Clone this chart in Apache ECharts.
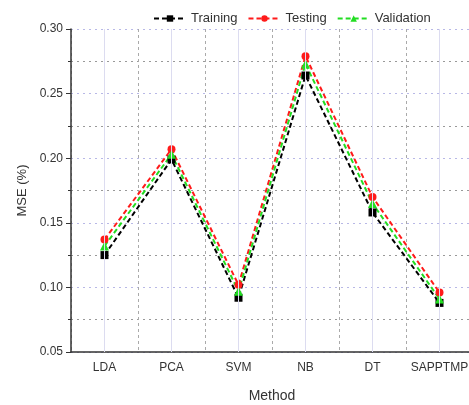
<!DOCTYPE html>
<html><head><meta charset="utf-8">
<script src="https://cdn.jsdelivr.net/npm/echarts@6/dist/echarts.min.js"></script>
<style>html,body{margin:0;padding:0;background:#fff}#c{width:469px;height:405px}</style>
</head><body><div id="c"></div>
<script>
const categories = ['LDA','PCA','SVM','NB','DT','SAPPTMP'];
const training = [0.125, 0.199, 0.092, 0.264, 0.158, 0.088];
const testing = [0.137, 0.207, 0.102, 0.279, 0.170, 0.096];
const validation = [0.132, 0.203, 0.097, 0.273, 0.165, 0.091];
const yTicks = [0.05, 0.30, 0.05]; // min, max, interval

const chart = echarts.init(document.getElementById('c'));
const font = 'Liberation Sans, Arial, sans-serif';
function mk(name, data, color, symbol, extra) {
  return Object.assign({
    name, type: 'line', data, xAxisIndex: 0,
    symbol, symbolSize: symbol === 'triangle' ? 9 : 8,
    itemStyle: { color },
    lineStyle: { color, width: 2, type: [5, 3] },
    z: 3
  }, extra || {});
}
chart.setOption({
  animation: false,
  textStyle: { fontFamily: font },
  legend: {
    top: 7, left: 148,
    itemWidth: 32, itemHeight: 8, itemGap: 10,
    textStyle: { fontSize: 13, color: '#333', fontFamily: font },
    data: ['Training', 'Testing', 'Validation']
  },
  grid: { left: 71, top: 29, width: 402, height: 323, outerBoundsMode: 'none', containLabel: false },
  xAxis: [{
    type: 'category', data: categories, boundaryGap: true,
    name: 'Method', nameLocation: 'middle', nameGap: 37,
    nameTextStyle: { fontSize: 14, color: '#333', fontFamily: font },
    axisLine: { lineStyle: { color: '#333', width: 1.5 } },
    axisTick: { alignWithLabel: true, interval: 0, length: 5, lineStyle: { color: '#333' } },
    axisLabel: { interval: 0, fontSize: 12, color: '#333', margin: 10, fontFamily: font, hideOverlap: false },
    splitLine: { show: true, interval: 0, lineStyle: { color: '#aaa', type: [3, 3], width: 1 } }
  }, {
    type: 'category', data: categories, boundaryGap: true, position: 'bottom',
    axisLine: { show: false },
    axisTick: { alignWithLabel: false, interval: 0, length: 3, lineStyle: { color: '#333' } },
    axisLabel: { show: false },
    splitLine: { show: false }
  }],
  yAxis: {
    type: 'value', min: yTicks[0], max: yTicks[1], interval: yTicks[2],
    name: 'MSE (%)', nameLocation: 'middle', nameGap: 42,
    nameTextStyle: { fontSize: 13, color: '#333', fontFamily: font },
    axisLine: { show: true, lineStyle: { color: '#333', width: 1.5 } },
    axisTick: { show: true, length: 5, lineStyle: { color: '#333' } },
    minorTick: { show: true, splitNumber: 2, length: 3, lineStyle: { color: '#333' } },
    axisLabel: { fontSize: 12, color: '#333', margin: 8, fontFamily: font, formatter: v => v.toFixed(2) },
    splitLine: { show: true, lineStyle: { color: '#b8b8e6', type: [2, 4], width: 1 } },
    minorSplitLine: { show: true, lineStyle: { color: '#999', type: [2, 4], width: 1 } }
  },
  series: [
    mk('Training', training, '#000000', 'rect', {
      markLine: {
        silent: true, symbol: 'none', label: { show: false },
        lineStyle: { color: '#dcdcf0', type: 'solid', width: 1 },
        data: categories.map(c => ({ xAxis: c }))
      }
    }),
    mk('Testing', testing, '#ff1a1a', 'circle'),
    mk('Validation', validation, '#22dd22', 'triangle')
  ]
});
</script></body></html>
